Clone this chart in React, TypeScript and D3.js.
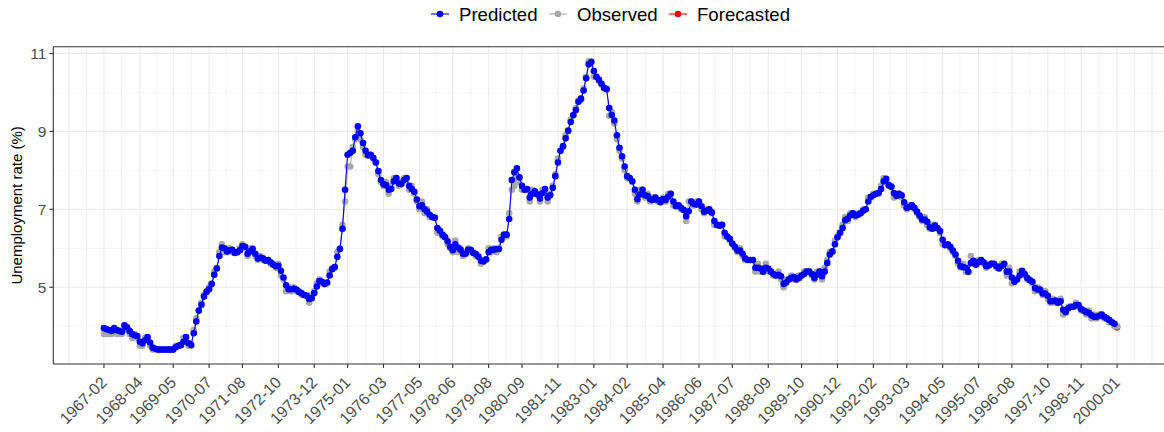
import React from "react";
import * as d3 from "d3";

// Monthly unemployment rate (%), first month of the series
const startMonth = "1967-02";

// Observed rate, 1967-02 .. 2000-01
const observed = [
  3.8, 3.8, 3.8, 3.8, 3.9, 3.8, 3.8, 3.8, 4.0, 3.9, 3.8,
  3.7, 3.8, 3.7, 3.5, 3.5, 3.7, 3.7, 3.5, 3.4, 3.4, 3.4, 3.4,
  3.4, 3.4, 3.4, 3.4, 3.4, 3.5, 3.5, 3.5, 3.7, 3.7, 3.5, 3.5,
  3.9, 4.2, 4.4, 4.6, 4.8, 4.9, 5.0, 5.1, 5.4, 5.5, 5.9, 6.1,
  5.9, 5.9, 6.0, 5.9, 5.9, 5.9, 6.0, 6.1, 6.0, 5.8, 6.0, 6.0,
  5.8, 5.7, 5.8, 5.7, 5.7, 5.7, 5.6, 5.6, 5.5, 5.6, 5.3, 5.2,
  4.9, 5.0, 4.9, 5.0, 4.9, 4.9, 4.8, 4.8, 4.8, 4.6, 4.8, 4.9,
  5.1, 5.2, 5.1, 5.1, 5.1, 5.4, 5.5, 5.5, 5.9, 6.0, 6.6, 7.2,
  8.1, 8.1, 8.6, 8.8, 9.0, 8.8, 8.6, 8.4, 8.4, 8.4, 8.3, 8.2,
  7.9, 7.7, 7.6, 7.7, 7.4, 7.6, 7.8, 7.8, 7.6, 7.7, 7.8, 7.8,
  7.5, 7.6, 7.4, 7.2, 7.0, 7.2, 6.9, 7.0, 6.8, 6.8, 6.8, 6.4,
  6.4, 6.3, 6.3, 6.1, 6.0, 5.9, 6.2, 5.9, 6.0, 5.8, 5.9, 6.0,
  5.9, 5.9, 5.8, 5.8, 5.6, 5.7, 5.7, 6.0, 5.9, 6.0, 5.9, 6.0,
  6.3, 6.3, 6.3, 6.9, 7.5, 7.6, 7.8, 7.7, 7.5, 7.5, 7.5, 7.2,
  7.5, 7.4, 7.4, 7.2, 7.5, 7.5, 7.2, 7.4, 7.6, 7.9, 8.3, 8.5,
  8.6, 8.9, 9.0, 9.3, 9.4, 9.6, 9.8, 9.8, 10.1, 10.4, 10.8, 10.8,
  10.4, 10.4, 10.3, 10.2, 10.1, 10.1, 9.4, 9.5, 9.2, 8.8, 8.5, 8.3,
  8.0, 7.8, 7.8, 7.7, 7.4, 7.2, 7.5, 7.5, 7.3, 7.4, 7.2, 7.3,
  7.3, 7.2, 7.2, 7.3, 7.2, 7.4, 7.4, 7.1, 7.1, 7.1, 7.0, 7.0,
  6.7, 7.2, 7.2, 7.1, 7.2, 7.2, 7.0, 6.9, 7.0, 7.0, 6.9, 6.6,
  6.6, 6.6, 6.6, 6.3, 6.3, 6.2, 6.1, 6.0, 5.9, 6.0, 5.8, 5.7,
  5.7, 5.7, 5.7, 5.4, 5.6, 5.4, 5.4, 5.6, 5.4, 5.4, 5.3, 5.3,
  5.4, 5.2, 5.0, 5.2, 5.2, 5.3, 5.2, 5.2, 5.3, 5.3, 5.4, 5.4,
  5.4, 5.3, 5.2, 5.4, 5.4, 5.2, 5.5, 5.7, 5.9, 5.9, 6.2, 6.3,
  6.4, 6.6, 6.8, 6.7, 6.9, 6.9, 6.8, 6.9, 6.9, 7.0, 7.0, 7.3,
  7.3, 7.4, 7.4, 7.4, 7.6, 7.8, 7.7, 7.6, 7.6, 7.3, 7.4, 7.4,
  7.3, 7.1, 7.0, 7.1, 7.1, 7.0, 6.9, 6.8, 6.7, 6.8, 6.6, 6.5,
  6.6, 6.6, 6.5, 6.4, 6.1, 6.1, 6.1, 6.0, 5.9, 5.8, 5.6, 5.5,
  5.6, 5.4, 5.4, 5.8, 5.6, 5.6, 5.7, 5.7, 5.6, 5.5, 5.6, 5.6,
  5.6, 5.5, 5.5, 5.6, 5.6, 5.3, 5.5, 5.1, 5.2, 5.2, 5.4, 5.4,
  5.3, 5.2, 5.2, 5.1, 4.9, 5.0, 4.9, 4.8, 4.9, 4.7, 4.6, 4.7,
  4.6, 4.6, 4.7, 4.3, 4.4, 4.5, 4.5, 4.5, 4.6, 4.5, 4.4, 4.4,
  4.3, 4.4, 4.2, 4.3, 4.2, 4.3, 4.3, 4.2, 4.2, 4.1, 4.1, 4.0,
  4.0,
];

// Model fit, 1967-02 .. 1999-12
const predicted = [
  3.95, 3.92, 3.9, 3.88, 3.95, 3.9, 3.88, 3.86, 4.02, 3.97, 3.88,
  3.8, 3.76, 3.75, 3.6, 3.56, 3.64, 3.72, 3.58, 3.45, 3.42, 3.4, 3.4,
  3.4, 3.4, 3.4, 3.4, 3.4, 3.46, 3.5, 3.52, 3.6, 3.72, 3.56, 3.52,
  3.82, 4.12, 4.4, 4.55, 4.76, 4.88, 4.95, 5.08, 5.32, 5.48, 5.8, 6.02,
  6.0, 5.92, 5.95, 5.96, 5.88, 5.9, 5.95, 6.06, 6.04, 5.86, 5.92, 5.98,
  5.86, 5.74, 5.76, 5.74, 5.68, 5.7, 5.64, 5.58, 5.54, 5.55, 5.42, 5.25,
  5.05, 4.95, 4.95, 4.96, 4.94, 4.88, 4.85, 4.8, 4.78, 4.7, 4.72, 4.85,
  5.02, 5.16, 5.14, 5.08, 5.12, 5.3, 5.46, 5.52, 5.78, 5.98, 6.5, 7.5,
  8.4, 8.45, 8.5, 8.85, 9.13, 8.95, 8.7, 8.5, 8.38, 8.4, 8.32, 8.2,
  7.98, 7.75, 7.64, 7.62, 7.5, 7.52, 7.72, 7.8, 7.66, 7.65, 7.75, 7.8,
  7.6, 7.52, 7.45, 7.25, 7.08, 7.1, 7.0, 6.94, 6.86, 6.8, 6.78, 6.52,
  6.45, 6.35, 6.28, 6.18, 6.04, 5.95, 6.1, 6.02, 5.96, 5.86, 5.86, 5.96,
  5.96, 5.88, 5.85, 5.78, 5.68, 5.66, 5.72, 5.9, 5.96, 5.96, 5.98, 5.98,
  6.22, 6.35, 6.35, 6.75, 7.75, 7.95, 8.05, 7.82, 7.6, 7.5, 7.52, 7.3,
  7.4, 7.46, 7.38, 7.28, 7.42, 7.52, 7.3, 7.36, 7.55, 7.85, 8.2, 8.5,
  8.62, 8.82, 9.02, 9.24, 9.42, 9.55, 9.76, 9.84, 10.05, 10.36, 10.72, 10.78,
  10.55, 10.4, 10.32, 10.22, 10.12, 10.08, 9.6, 9.42, 9.28, 8.9, 8.58, 8.36,
  8.1, 7.85, 7.8, 7.72, 7.5, 7.26, 7.38, 7.5, 7.36, 7.34, 7.26, 7.24,
  7.3, 7.24, 7.18, 7.26, 7.24, 7.32, 7.4, 7.2, 7.08, 7.1, 7.04, 6.98,
  6.82, 6.95, 7.2, 7.14, 7.12, 7.2, 7.08, 6.94, 6.96, 7.0, 6.92, 6.7,
  6.6, 6.58, 6.6, 6.4, 6.3, 6.24, 6.12, 6.04, 5.94, 5.94, 5.86, 5.74,
  5.7, 5.7, 5.7, 5.5, 5.5, 5.48, 5.4, 5.5, 5.48, 5.4, 5.34, 5.3,
  5.32, 5.28, 5.08, 5.12, 5.2, 5.24, 5.26, 5.2, 5.24, 5.3, 5.34, 5.4,
  5.4, 5.34, 5.24, 5.32, 5.4, 5.28, 5.4, 5.62, 5.84, 5.92, 6.1, 6.28,
  6.4, 6.52, 6.72, 6.76, 6.84, 6.9, 6.84, 6.86, 6.9, 6.96, 7.0, 7.2,
  7.32, 7.36, 7.4, 7.42, 7.52, 7.72, 7.78, 7.62, 7.58, 7.42, 7.34, 7.4,
  7.36, 7.18, 7.04, 7.06, 7.1, 7.04, 6.94, 6.84, 6.74, 6.74, 6.68, 6.54,
  6.5, 6.58, 6.52, 6.44, 6.22, 6.08, 6.1, 6.04, 5.94, 5.84, 5.68, 5.54,
  5.52, 5.5, 5.4, 5.62, 5.68, 5.58, 5.64, 5.7, 5.64, 5.54, 5.56, 5.6,
  5.6, 5.54, 5.48, 5.54, 5.6, 5.4, 5.4, 5.25, 5.14, 5.2, 5.3, 5.42,
  5.34, 5.24, 5.18, 5.14, 4.98, 4.94, 4.94, 4.84, 4.84, 4.78, 4.64, 4.64,
  4.66, 4.6, 4.64, 4.42, 4.36, 4.46, 4.5, 4.5, 4.54, 4.54, 4.44, 4.4,
  4.36, 4.34, 4.28, 4.24, 4.24, 4.26, 4.3, 4.24, 4.2, 4.16, 4.1, 4.06,
];

// Forecast for the month after the fitted period
const forecastMonths = ["2000-01"];
const forecastValues = [3.97];

const tickLabels = [
  "1967-02", "1968-04", "1969-05", "1970-07", "1971-08", "1972-10",
  "1973-12", "1975-01", "1976-03", "1977-05", "1978-06", "1979-08",
  "1980-09", "1981-11", "1983-01", "1984-02", "1985-04", "1986-06",
  "1987-07", "1988-09", "1989-10", "1990-12", "1992-02", "1993-03",
  "1994-05", "1995-07", "1996-08", "1997-10", "1998-11", "2000-01",
];

const yBreaks = [5, 7, 9, 11];
const yMinorBreaks = [4, 6, 8, 10];

const seriesNames = ["Predicted", "Observed", "Forecasted"];
const seriesColors = ["#0000FF", "#A9A9A9", "#FF0000"];

const W = 1164;
const H = 432;
const FONT = "'Liberation Sans', Arial, Helvetica, sans-serif";

export default function App() {
  const parse = d3.timeParse("%Y-%m");
  const fmt = d3.timeFormat("%Y-%m");
  const start = parse(startMonth) as Date;
  const months = d3.range(observed.length).map((i) => fmt(d3.timeMonth.offset(start, i)));
  const indexOf = (m: string) => months.indexOf(m);

  const left = 53.3;
  const top = 46.8;
  const bottom = 364;

  const n = months.length - 1;
  const xPad = n * 0.05;
  const x = d3.scaleLinear().domain([-xPad, n + xPad]).range([left, 1167.7]);

  const allVals = [...observed, ...predicted, ...forecastValues];
  const [yMin, yMax] = d3.extent(allVals) as [number, number];
  const yPad = (yMax - yMin) * 0.05;
  const y = d3.scaleLinear().domain([yMin - yPad, yMax + yPad]).range([bottom, top]);

  const obsPts = observed.map((v, i) => [x(i), y(v)] as [number, number]);
  const predPts = predicted.map((v, i) => [x(i), y(v)] as [number, number]);
  const fcPts = forecastValues.map((v, i) => [x(indexOf(forecastMonths[i])), y(v)] as [number, number]);
  const line = d3.line();

  const tickIdx = tickLabels.map(indexOf);
  const step = n / (tickLabels.length - 1);
  const majorGrid: number[] = [];
  const minorGrid: number[] = [];
  for (let i = -2; i <= tickLabels.length + 1; i++) {
    const major = i >= 0 && i < tickIdx.length ? tickIdx[i] : i * step;
    const minor = (i + 0.5) * step;
    if (x(major) >= left && x(major) <= W) majorGrid.push(major);
    if (x(minor) >= left && x(minor) <= W) minorGrid.push(minor);
  }

  const r = 3.3;
  const legendX = [431, 549, 669];

  return (
    <svg
      width={W}
      height={H}
      style={{ position: "absolute", left: 0, top: 0, background: "#fff" }}
      fontFamily={FONT}
    >
      <rect x={0} y={0} width={W} height={H} fill="#fff" />
      {/* grid */}
      <g>
        {yMinorBreaks.map((v) => (
          <line key={"ym" + v} x1={left} x2={W} y1={y(v)} y2={y(v)} stroke="#EBEBEB" strokeWidth={0.55} />
        ))}
        {minorGrid.map((v) => (
          <line key={"xm" + v} x1={x(v)} x2={x(v)} y1={top} y2={bottom} stroke="#EBEBEB" strokeWidth={0.55} />
        ))}
        {yBreaks.map((v) => (
          <line key={"yM" + v} x1={left} x2={W} y1={y(v)} y2={y(v)} stroke="#EBEBEB" strokeWidth={1.1} />
        ))}
        {majorGrid.map((v) => (
          <line key={"xM" + v} x1={x(v)} x2={x(v)} y1={top} y2={bottom} stroke="#EBEBEB" strokeWidth={1.1} />
        ))}
      </g>

      {/* series */}
      <g>
        {fcPts.map((p, i) => (
          <circle key={"f" + i} cx={p[0]} cy={p[1]} r={r} fill={seriesColors[2]} />
        ))}
        <path d={line(obsPts) || ""} fill="none" stroke={seriesColors[1]} strokeWidth={1.1} />
        {obsPts.map((p, i) => (
          <circle key={"o" + i} cx={p[0]} cy={p[1]} r={r} fill={seriesColors[1]} />
        ))}
        <path d={line(predPts) || ""} fill="none" stroke={seriesColors[0]} strokeWidth={1.1} />
        {predPts.map((p, i) => (
          <circle key={"p" + i} cx={p[0]} cy={p[1]} r={r} fill={seriesColors[0]} />
        ))}
      </g>

      {/* panel frame: top, left, bottom */}
      <line x1={left} x2={W} y1={top} y2={top} stroke="#333333" strokeWidth={1.1} />
      <line x1={left} x2={left} y1={top} y2={bottom} stroke="#333333" strokeWidth={1.1} />
      <line x1={left} x2={W} y1={bottom} y2={bottom} stroke="#333333" strokeWidth={1.1} />

      {/* y axis */}
      {yBreaks.map((v) => (
        <g key={"yt" + v}>
          <line x1={left - 4} x2={left} y1={y(v)} y2={y(v)} stroke="#333333" strokeWidth={1.1} />
          <text x={left - 7} y={y(v)} dy="0.36em" textAnchor="end" fontSize={15.5} fill="#4D4D4D">
            {v}
          </text>
        </g>
      ))}
      <text
        transform={`translate(22,${(top + bottom) / 2}) rotate(-90)`}
        textAnchor="middle"
        fontSize={15}
        fill="#000"
      >
        Unemployment rate (%)
      </text>

      {/* x axis */}
      {tickLabels.map((lab, i) => {
        const tx = x(tickIdx[i]);
        return (
          <g key={"xt" + lab}>
            <line x1={tx} x2={tx} y1={bottom} y2={bottom + 4} stroke="#333333" strokeWidth={1.1} />
            <text
              transform={`translate(${tx + 4},${bottom + 19.5}) rotate(-45)`}
              textAnchor="end"
              fontSize={16}
              fill="#4D4D4D"
            >
              {lab}
            </text>
          </g>
        );
      })}

      {/* legend */}
      {seriesNames.map((name, i) => (
        <g key={"lg" + name}>
          <line x1={legendX[i]} x2={legendX[i] + 18} y1={14} y2={14} stroke={seriesColors[i]} strokeWidth={1.1} />
          <circle cx={legendX[i] + 9} cy={14} r={r} fill={seriesColors[i]} />
          <text x={legendX[i] + 28} y={20.6} fontSize={18.6} fill="#000">
            {name}
          </text>
        </g>
      ))}
    </svg>
  );
}
